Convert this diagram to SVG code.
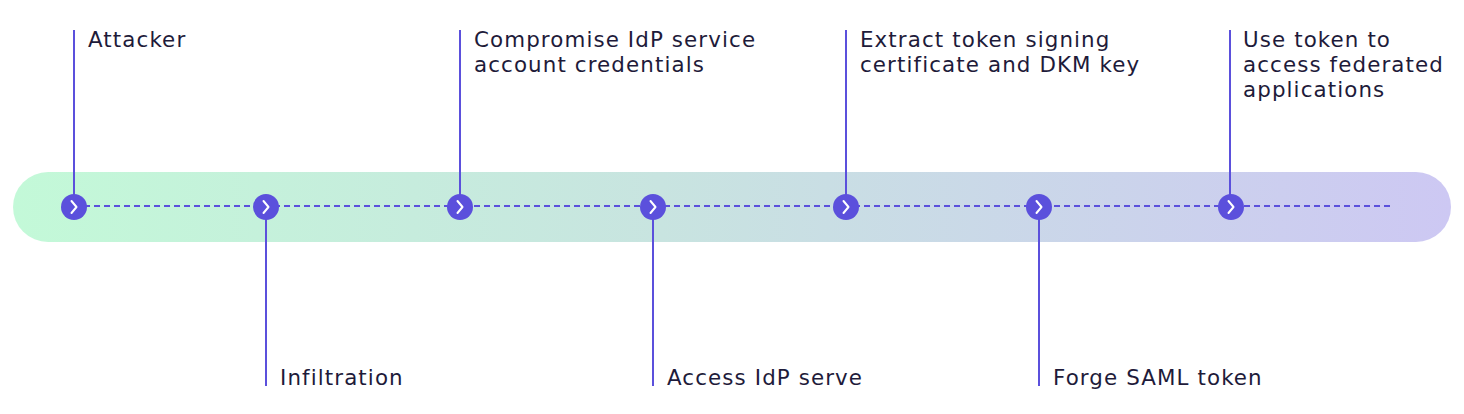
<svg xmlns="http://www.w3.org/2000/svg" width="1464" height="414" viewBox="0 0 1464 414">
  <defs>
    <linearGradient id="band" x1="0" y1="0" x2="1" y2="0">
      <stop offset="0" stop-color="#C3F9D8"/>
      <stop offset="0.45" stop-color="#C8E4E0"/>
      <stop offset="1" stop-color="#CDC8F3"/>
    </linearGradient>
    <g id="chev">
      <circle r="13" fill="#5B50DC"/>
      <path d="M-2.5,-6 L2.5,0 L-2.5,6" fill="none" stroke="#FFFFFF" stroke-width="2" stroke-linecap="round" stroke-linejoin="round"/>
    </g>
  </defs>
  <style>
    .lbl { font-family: "DejaVu Sans", "Liberation Sans", sans-serif; font-size: 21.4px; letter-spacing: 1.1px; fill: #1E1B3A; }
    .stem { stroke: #5B50DC; stroke-width: 2; fill: none; }
    .dash { stroke: #5B50DC; stroke-width: 2; stroke-dasharray: 6 4; fill: none; }
  </style>
  <rect x="13" y="172" width="1438" height="70" rx="35" fill="url(#band)"/>
  <g id="connectors">
    <line class="dash" x1="74" y1="206" x2="1390" y2="206"/>
    <line class="stem" x1="74" y1="30" x2="74" y2="200"/>
    <line class="stem" x1="266" y1="212" x2="266" y2="386"/>
    <line class="stem" x1="460" y1="30" x2="460" y2="200"/>
    <line class="stem" x1="653" y1="212" x2="653" y2="386"/>
    <line class="stem" x1="846" y1="30" x2="846" y2="200"/>
    <line class="stem" x1="1039" y1="212" x2="1039" y2="386"/>
    <line class="stem" x1="1230" y1="30" x2="1230" y2="200"/>
  </g>
  <g id="attacker">
    <use href="#chev" x="74" y="207"/>
    <text class="lbl" x="88" y="47">Attacker</text>
  </g>
  <g id="infiltration">
    <use href="#chev" x="266" y="207"/>
    <text class="lbl" x="280" y="385">Infiltration</text>
  </g>
  <g id="compromise">
    <use href="#chev" x="460" y="207"/>
    <text class="lbl" x="474" y="47">Compromise IdP service</text>
    <text class="lbl" x="474" y="72">account credentials</text>
  </g>
  <g id="access-idp">
    <use href="#chev" x="653" y="207"/>
    <text class="lbl" x="667" y="385">Access IdP serve</text>
  </g>
  <g id="extract">
    <use href="#chev" x="846" y="207"/>
    <text class="lbl" x="860" y="47">Extract token signing</text>
    <text class="lbl" x="860" y="72">certificate and DKM key</text>
  </g>
  <g id="forge">
    <use href="#chev" x="1039" y="207"/>
    <text class="lbl" x="1053" y="385">Forge SAML token</text>
  </g>
  <g id="use-token">
    <use href="#chev" x="1231" y="207"/>
    <text class="lbl" x="1243" y="47">Use token to</text>
    <text class="lbl" x="1243" y="72">access federated</text>
    <text class="lbl" x="1243" y="97">applications</text>
  </g>
</svg>
